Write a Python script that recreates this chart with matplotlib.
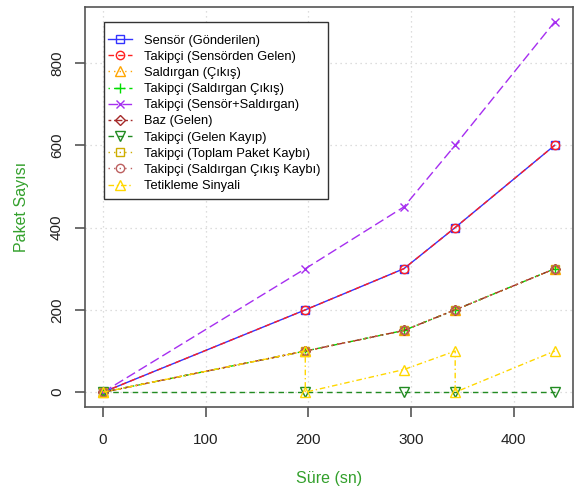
import matplotlib
matplotlib.use("Agg")
import matplotlib.pyplot as plt
from matplotlib.patches import Rectangle

plt.rcParams['font.family'] = ['Liberation Sans', 'DejaVu Sans']

x = [0, 197, 293, 343, 440]
sensor_sent = [0, 200, 300, 400, 600]
tracker_from_sensor = [0, 200, 300, 400, 600]
attacker_out = [0, 100, 150, 200, 300]
tracker_attacker_out = [0, 100, 150, 200, 300]
tracker_sensor_attacker = [0, 300, 450, 600, 900]
base_received = [0, 100, 150, 200, 300]
tracker_lost = [0, 0, 0, 0, 0]
tracker_total_loss = [0, 100, 150, 200, 300]
tracker_attacker_loss = [0, 100, 150, 200, 300]
trigger_x = [0, 197, 197, 293, 343, 343, 440]
trigger_y = [0, 100, 0, 55, 100, 0, 100]

labels = ["Sensör (Gönderilen)", "Takipçi (Sensörden Gelen)", "Saldırgan (Çıkış)",
          "Takipçi (Saldırgan Çıkış)", "Takipçi (Sensör+Saldırgan)", "Baz (Gelen)",
          "Takipçi (Gelen Kayıp)", "Takipçi (Toplam Paket Kaybı)",
          "Takipçi (Saldırgan Çıkış Kaybı)", "Tetikleme Sinyali"]
x_ticks = [0, 100, 200, 300, 400]
y_ticks = [0, 200, 400, 600, 800]

fig = plt.figure(figsize=(5.74, 4.91), dpi=100)
ax = fig.add_axes([0.148, 0.171, 0.850, 0.815])

series = [
    (x, sensor_sent, dict(color='#3333ff', ls='-', marker='s', mfc='none', ms=5.5)),
    (x, tracker_from_sensor, dict(color='#ff2020', ls=(0, (4, 3)), marker='o', mfc='none', ms=6)),
    (x, attacker_out, dict(color='#ffa500', ls=(0, (1, 3)), marker='^', mfc='none', ms=6.5)),
    (x, tracker_attacker_out, dict(color='#00dd00', ls=(0, (1, 3, 4, 3)), marker='+', ms=7)),
    (x, tracker_sensor_attacker, dict(color='#a62ef0', ls=(0, (7, 3)), marker='x', ms=6)),
    (x, base_received, dict(color='#a52a2a', ls=(0, (2, 2, 6, 2)), marker='D', mfc='none', ms=5)),
    (x, tracker_lost, dict(color='#228b22', ls=(0, (4, 3)), marker='v', mfc='none', ms=6.5)),
    (x, tracker_total_loss, dict(color='#cdad00', ls=(0, (1, 3)), marker='s', mfc='none', ms=5.5)),
    (x, tracker_attacker_loss, dict(color='#bc5f5f', ls=(0, (1, 3)), marker='o', mfc='none', ms=6)),
    (trigger_x, trigger_y, dict(color='#ffd700', ls=(0, (4, 2, 1, 2)), marker='^', mfc='none', ms=6.5)),
]

for (xs, ys, st), lab in zip(series, labels):
    c = st.pop('color')
    ax.plot(xs, ys, color=c, mec=c, lw=1.0, mew=1.0, label=lab, **st)

ax.set_xlim(-17.6, 457.6)
ax.set_ylim(-36, 936)
ax.set_xticks(x_ticks)
ax.set_yticks(y_ticks)
ax.grid(True, color='#d3d3d3', ls=(0, (1, 3)), lw=0.9)
for sp in ax.spines.values():
    sp.set_color('#555555')
    sp.set_linewidth(1.2)
ax.tick_params(axis='both', colors='#555555', labelcolor='#222222', labelsize=11, length=7, width=1.2)
ax.tick_params(axis='x', pad=12)
ax.tick_params(axis='y', pad=8)
for lbl in ax.get_yticklabels():
    lbl.set_rotation(90)
    lbl.set_va('center')
ax.set_xlabel("Süre (sn)", color='#33a02c', fontsize=11.5, labelpad=17)
ax.set_ylabel("Paket Sayısı", color='#33a02c', fontsize=11.5, labelpad=15)

# legend frame drawn separately (R-style padding)
ax.add_patch(Rectangle((0.039, 0.52), 0.459, 0.4425, transform=ax.transAxes,
                       facecolor='white', edgecolor='#333333', lw=1.0, zorder=4.9))
leg = ax.legend(loc='upper left', bbox_to_anchor=(0.047, 0.931), fontsize=9.3,
                handlelength=1.85, labelspacing=0.32, frameon=False,
                borderpad=0, handletextpad=0.93, borderaxespad=0)
leg.set_zorder(5)

fig.savefig("out.png", dpi=100)
